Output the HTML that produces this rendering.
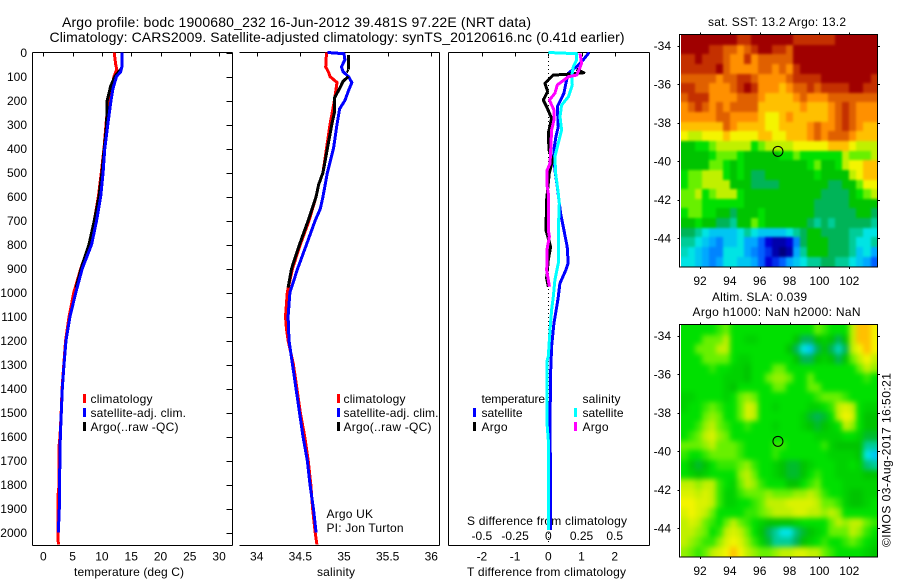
<!DOCTYPE html>
<html lang="en">
<head>
<meta charset="utf-8">
<title>Argo profile 1900680_232</title>
<style>
html,body{margin:0;padding:0;background:#fff;}
svg{display:block;}
text{font-family:"Liberation Sans",sans-serif;font-size:12px;fill:#000;}
</style>
</head>
<body>
<svg id="fig" xmlns="http://www.w3.org/2000/svg" width="900" height="580" viewBox="0 0 900 580">
<defs>
<filter id="sstSoft" filterUnits="userSpaceOnUse" x="660" y="10" width="240" height="280" color-interpolation-filters="sRGB"><feGaussianBlur stdDeviation="1.3"/></filter>
<filter id="slaSoft" filterUnits="userSpaceOnUse" x="660" y="300" width="240" height="280" color-interpolation-filters="sRGB"><feGaussianBlur stdDeviation="2.6"/></filter>
<clipPath id="sstClip"><rect x="681" y="35" width="197" height="232"/></clipPath>
<clipPath id="slaClip"><rect x="681" y="325" width="197" height="232"/></clipPath>
</defs>
<text x="62" y="27" style="font-size:14px" textLength="469" lengthAdjust="spacing">Argo profile: bodc 1900680_232 16-Jun-2012 39.481S 97.22E (NRT data)</text>
<text x="49.5" y="42" style="font-size:14px" textLength="575" lengthAdjust="spacing">Climatology: CARS2009. Satellite-adjusted climatology: synTS_20120616.nc (0.41d earlier)</text>
<text x="74" y="576" textLength="110" lengthAdjust="spacing">temperature (deg C)</text>
<text x="317" y="576" textLength="38" lengthAdjust="spacing">salinity</text>
<text x="467" y="576" textLength="159" lengthAdjust="spacing">T difference from climatology</text>
<text x="467" y="525" textLength="160" lengthAdjust="spacing">S difference from climatology</text>
<text x="326.5" y="518" textLength="46.5" lengthAdjust="spacing">Argo UK</text>
<text x="326.5" y="532" textLength="77" lengthAdjust="spacing">PI: Jon Turton</text>

<g>
<rect x="83" y="394" width="3" height="9" fill="#f00"/>
<text x="90.5" y="403" textLength="62" lengthAdjust="spacing">climatology</text>
<rect x="83" y="408" width="3" height="9" fill="#00f"/>
<text x="90.5" y="417" textLength="95.5" lengthAdjust="spacing">satellite-adj. clim.</text>
<rect x="83" y="422" width="3" height="9" fill="#000"/>
<text x="90.5" y="431" textLength="88" lengthAdjust="spacing">Argo(..raw -QC)</text>
</g>
<g>
<rect x="337" y="394" width="3" height="9" fill="#f00"/>
<text x="343.5" y="403" textLength="62" lengthAdjust="spacing">climatology</text>
<rect x="337" y="408" width="3" height="9" fill="#00f"/>
<text x="343.5" y="417" textLength="95" lengthAdjust="spacing">satellite-adj. clim.</text>
<rect x="337" y="422" width="3" height="9" fill="#000"/>
<text x="343.5" y="431" textLength="88" lengthAdjust="spacing">Argo(..raw -QC)</text>
</g>

<text x="708" y="26" textLength="138" lengthAdjust="spacing">sat. SST: 13.2 Argo: 13.2</text>
<text x="712" y="301" textLength="95" lengthAdjust="spacing">Altim. SLA: 0.039</text>
<text x="692.5" y="316" textLength="168" lengthAdjust="spacing">Argo h1000: NaN h2000: NaN</text>
<text transform="translate(890.5,547) rotate(-90)" textLength="174" lengthAdjust="spacing">©IMOS 03-Aug-2017 16:50:21</text>
<g id="layer"></g>
</svg>
<script>
// ---- Profile axis ticks ----
const depthTicks = [0,100,200,300,400,500,600,700,800,900,1000,1100,1200,1300,1400,1500,1600,1700,1800,1900,2000];
const tempTicks = [0,5,10,15,20,25,30];
const salTicks = [34,34.5,35,35.5,36];
const salTickLabels = ['34','34.5','35','35.5','36'];
const dTTicks = [-2,-1,0,1,2];
const dTTickLabels = ['-2','-1','0','1','2'];
const dSTicks = [-0.5,-0.25,0,0.25,0.5];
const dSTickLabels = ['-0.5','-0.25','0','0.25','0.5'];
const lonTicks = [92,94,96,98,100,102];
const latTicks = [-34,-36,-38,-40,-42,-44];

// ---- Temperature profiles (deg C) ----
const tempClimDepth = [0,50,70,100,150,200,300,400,500,600,700,800,900,1000,1100,1200,1300,1400,1500,1600,1650,1730,1800,1850,1950,2050];
const tempClim = [12.1,12.35,12.55,12.07,11.67,11.1,10.7,10.36,9.9,9.4,8.7,7.85,6.4,5.2,4.4,3.8,3.5,3.2,3.05,2.85,2.65,2.65,2.7,2.5,2.5,2.56];
const tempSatDepth = [0,60,80,100,150,200,300,400,500,600,700,800,900,1000,1100,1200,1300,1400,1500,1600,1700,1800,1900,2000];
const tempSat = [13.4,13.4,13.2,12.5,11.9,11.55,11.0,10.5,10.2,9.8,9.1,8.25,6.65,5.55,4.55,3.87,3.53,3.25,3.07,2.9,2.85,2.73,2.73,2.56];
const tempArgoDepth = [65,100,140,200,300,400,500,600,700,800,900,980];
const tempArgo = [13.4,12.2,11.5,10.9,10.8,10.4,10.0,9.5,8.7,7.8,6.45,5.6];

// ---- Salinity profiles ----
const salClimDepth = [0,60,80,100,125,200,300,400,500,550,600,700,800,900,1000,1050,1100,1150,1200,1300,1400,1500,1600,1700,1800,1900,2000,2050];
const salClim = [34.80,34.79,34.82,34.84,34.92,34.89,34.84,34.80,34.76,34.71,34.68,34.60,34.50,34.41,34.35,34.34,34.33,34.34,34.36,34.42,34.46,34.50,34.55,34.59,34.62,34.64,34.67,34.69];
const salSatDepth = [0,5,30,60,80,100,125,160,200,235,300,400,500,600,650,700,800,900,1000,1100,1200,1300,1400,1500,1600,1700,1800,1900,2000];
const salSat = [34.81,35.0,35.01,34.97,34.99,35.05,35.09,35.05,35.01,34.95,34.92,34.88,34.81,34.76,34.73,34.67,34.57,34.47,34.38,34.36,34.37,34.41,34.45,34.49,34.53,34.58,34.61,34.65,34.68];
const salArgoDepth = [10,70,72,76,80,92,100,120,150,190,250,300,400,500,550,600,700,800,900,980];
const salArgo = [35.05,35.05,null,35.03,35.05,null,35.05,34.99,34.95,34.89,34.89,34.86,34.81,34.76,34.71,34.68,34.59,34.49,34.40,34.36];

// ---- Differences from climatology ----
const dTSatDepth = [0,31,59,87,128,170,226,309,351,406,490,559,670,740,809,878,906,962,1017,1045,1129,1226,1337,1545,1823,1990];
const dTSat = [1.23,1.05,0.85,0.60,0.53,0.47,0.27,0.30,0.23,0.17,0.20,0.27,0.37,0.47,0.57,0.60,0.53,0.35,0.30,0.27,0.17,0.10,0.07,0.05,0.07,0.07];
const dTArgoDepth = [70,84,91,94,128,163,198,226,274,337,406,448,503,615,740,809,865,941,976];
const dTArgo = [0.85,1.07,0.55,0.15,-0.10,-0.02,-0.15,-0.05,0.10,0,0.02,0.13,0.03,-0.05,-0.07,0.07,0,-0.05,0];
const dSSatDepth = [0,5,31,59,100,135,184,219,267,323,378,434,503,587,628,740,878,948,1017,1073,1157,1268,1282,1545,1615,1990];
const dSSat = [0,0.214,0.214,0.188,0.176,0.181,0.151,0.10,0.088,0.10,0.075,0.05,0.055,0.075,0.083,0.075,0.075,0.05,0.038,0.025,0.013,0,-0.008,-0.01,0,0];
const dSArgoDepth = [4,45,62,94,101,122,135,170,198,240,281,323,406,462,490,559,587,740,767,816,865,906,976];
const dSArgo = [0.239,0.251,0.239,0.214,0.151,0.10,0.068,0.05,0.008,0.043,0.043,0.025,0.018,0.013,-0.008,-0.008,0,0,0.008,-0.008,-0.008,-0.013,0.008];

// ---- Float position ----
const floatLon = [97.22];
const floatLat = [-39.481];

// ---- Map colour levels: 0 navy ... 8 green ... 11 yellow ... 16 dark red ----
const sstGrid = [
[16,16,16,16,16,16,16,16,15,15,16,16,16,16,16,16,15,15,15,15,15,15,16,16,16,16,16,16],
[16,16,16,16,15,15,14,14,13,14,15,16,16,15,15,14,16,16,16,16,16,16,16,16,16,16,16,16],
[15,15,16,15,15,15,14,13,13,15,13,14,14,14,14,14,16,16,16,16,16,16,16,16,16,16,16,16],
[15,15,15,15,15,16,14,13,13,13,13,14,14,13,14,13,15,16,16,16,16,16,16,16,16,16,16,16],
[14,14,14,14,14,13,14,14,15,15,14,13,13,13,13,14,15,15,15,15,16,16,16,16,16,16,16,15],
[15,15,14,14,13,13,13,14,15,16,15,13,13,13,12,13,14,14,15,14,15,15,15,15,16,16,15,15],
[14,15,15,15,13,13,13,13,14,14,14,13,12,12,12,12,13,14,13,13,13,14,14,14,14,14,14,14],
[13,14,15,14,13,14,13,14,14,14,14,12,12,12,12,12,12,13,12,12,12,13,14,15,14,13,13,13],
[13,13,13,13,13,14,14,13,13,13,13,12,11,11,12,13,12,12,12,12,12,13,14,15,14,13,13,13],
[12,12,12,12,12,12,14,13,12,12,12,12,11,11,12,12,12,12,13,14,13,13,14,15,14,13,12,12],
[11,10,10,11,11,11,12,11,11,11,11,12,12,11,11,12,12,12,13,14,13,14,14,14,13,12,12,12],
[7,7,8,8,9,10,10,10,10,10,8,9,10,10,10,10,11,11,11,11,11,12,12,12,11,10,10,10],
[7,7,7,7,8,9,9,9,8,7,7,7,7,7,8,8,9,8,8,8,8,8,8,10,9,9,9,10],
[7,7,7,7,9,9,8,7,8,7,7,7,7,7,7,7,7,7,8,9,7,7,8,10,11,11,12,12],
[8,9,9,10,10,10,8,7,8,7,6,6,7,7,7,7,7,7,7,8,7,7,7,7,10,11,12,12],
[8,9,9,10,10,10,10,7,7,7,6,6,6,6,7,7,7,7,7,7,7,6,6,7,7,9,11,11],
[9,9,10,8,9,10,10,10,8,7,7,7,7,7,7,7,7,7,7,7,6,6,6,6,7,8,9,10],
[9,9,9,8,8,8,8,8,8,7,7,7,7,7,7,7,7,7,7,6,6,6,6,6,7,7,7,7],
[8,9,9,8,8,7,7,6,7,7,7,8,7,7,7,7,7,7,7,6,6,6,6,6,6,7,7,6],
[7,7,8,7,7,6,6,5,7,7,9,8,7,7,7,7,7,7,6,5,6,5,6,6,6,6,6,5],
[6,6,5,4,3.5,3.5,3.5,3.5,4,5,4,3.5,3.5,3.5,3.5,4,5,6,7,7,6,6,6,6,5,5,4,4],
[5,5,4,3.5,3,2.5,3.5,3.5,4,3,3,2,1,0.5,0.5,1,2.5,6,7,7,7,6,6,6,5,4,4,5],
[4.5,4,3.5,3,2.5,2.5,4,4,4,3,2.5,2,1.5,0.5,0,0.5,3,5,7,7,7,6,6,6,5,3.5,4,3],
[4,4,3.5,3,2.5,3,4,4,3.5,3.5,3,2,1,1.5,2,3,3.5,4,5,5,6,6,5,5,4,3.5,3,2]
];
const slaGrid = [
[8,8,8,8,8,8.5,9,8,8,8,8,8,8,8,8,8,8,8,8,9,8.5,8,8,8,10,12,12,11],
[8,8,8,9,9,9,10,8,8,7.5,7.5,8,8,8,8,8,7,6,6,7,7.5,7,6,7,10,12,12,11],
[8,8,9,9,9,10,10,8,8,8,8,8,8,8,8,7,6,4,3.5,6,7,6,4.5,6,10,11,12,11],
[8,8,8,9,9,9,9,8,7.5,7.5,8,8,8,8,8,8,7,6,6,7,7.5,7,6,7,9,10,11,10],
[8,8,8,8,8.5,8,8,7.5,7.5,7,8,8,8,9,9,8,8,8,8,8,8,8,8,8,8,9,10,9.5],
[8,8,8,8,8,8,7.5,7.5,7.5,7,8,8,9,9.5,9.5,9,8,8,9,8,8,8,8,8,8,8,8.5,8],
[8,8,8,8,8,8,7.5,7,8,8,8,8,8,9,9,8,8,8,9,9,8,8,8,8,8,8,8,8],
[7.5,7.5,8,8,8,8,7.5,8,9,9.5,9,8,8,8,8,8,8,8,8,8.5,9,9,9,8.5,8,8,8,8],
[7.5,8,8,8.5,9,8.5,8,8,9,10.5,10,8,8,7.5,8,8,8,8,7.5,7.5,8,8.5,10,10.5,10,8,7.5,7.5],
[8,8,8,9,9.5,9,8,8,9,10.5,10,8,8,8,8,8,8,7.5,6.5,6,6.5,8,10,11,10.5,8,7,7],
[8,8,8.5,9.5,10,9,8.5,8,8,8.5,8,8,8,7.5,8,8,8,7.5,7,6.5,7,7.5,8,10,9.5,8,7,7],
[8,8.5,9,10,10.5,9.5,9,8,8,8,8,8,8,8,8,8,8,8,8,7.5,7.5,7.5,7.5,8,8,7.5,6.5,6.5],
[9,9,9,9.5,10,9,9,9,8.5,8,8,8,8,8.5,8.5,8,8,8,8,8,8.5,7.5,7,7,7,7,5,5],
[8.5,8,8,8.5,9,9,9,9,8.5,8,8,8,8,8.5,8,8,8,8,8,8,8,7.5,7.5,7.5,7.5,7,4,3.5],
[8,7,6.5,7,8,8.5,8.5,8.5,9,9.5,8.5,8,8,7.5,7,6.5,6.5,7,7.5,8,8,8,7.5,7.5,8,7.5,5.5,5],
[8,7.5,7,7.5,8,8,8,8,9.5,10,9,8,8,7.5,7,6.5,6.5,7,8,8.5,8,8,7.5,7.5,7.5,7.5,7,7],
[10,10,9.5,10,10,8.5,8,7.5,9,10,9.5,8.5,8,8,8,7,7,8,8.5,9,8,8,8,7.5,7.5,7.5,7.5,7.5],
[10.5,10.5,10,10.5,10,8.5,7.5,7.5,8.5,9,9,9,9.5,9,9,9,9.5,9.5,10,9.5,8.5,8,8,7.5,7,7,7.5,7.5],
[11,11,10.5,10.5,10,8.5,7.5,7.5,8,8,8.5,9,10,10,10,10.5,10.5,10.5,10.5,10,9,9,8.5,7.5,7,7,7.5,8],
[10.5,11,10.5,10,9,8,8,8,8,8.5,8.5,9,9.5,10,10,10,10.5,10.5,10,10,9.5,10,9.5,8,8,8,8,8],
[10,10.5,10,9,8.5,8,9,10,9,8.5,8,7.5,7,7,7,7,7.5,8,8,8,8,9,10,9.5,10,10,9,8.5],
[10,10,9.5,9,8,8.5,10,10.5,10,9,8,7,6,5,4,4,5.5,6.5,7,7.5,8,9,9,9,10,9.5,8.5,8],
[10,9.5,9,8.5,8.5,9.5,10.5,11,10.5,9.5,8.5,7.5,6.5,5,5,5,6,7,7.5,8,8.5,8,8,8.5,9,8.5,8,7.5],
[9.5,9,8.5,9,10,10.5,11,12,11,10,9.5,9,9,9.5,10,10,10.5,10.5,10,10,9,8.5,8,8,8,8,7.5,7]
];
const mapFirstLon = [90.73];
const mapFirstLat = [-33.445];
const mapLonStep = [0.47];
const mapLatStep = [0.5];

const NS = 'http://www.w3.org/2000/svg';
const layer = document.getElementById('layer');
function mk(tag, attrs, parent) {
  const el = document.createElementNS(NS, tag);
  for (const k in attrs) el.setAttribute(k, attrs[k]);
  (parent || layer).appendChild(el);
  return el;
}
const levelColours = ['#000080','#0000d8','#0060ff','#00a8ff','#00e4e4','#00cc98','#00b458','#00c400','#00e000','#68f000','#c0f000','#f4f400','#ffc000','#ff9000','#e06000','#c43000','#a00000'];
function levelColour(v) {
  const lo = Math.max(0, Math.min(16, Math.floor(v)));
  const hi = Math.min(16, lo + 1);
  const f = v - lo;
  const a = parseInt(levelColours[lo].slice(1), 16);
  const b = parseInt(levelColours[hi].slice(1), 16);
  const ch = s => Math.round(((a >> s) & 255) * (1 - f) + ((b >> s) & 255) * f);
  return 'rgb(' + ch(16) + ',' + ch(8) + ',' + ch(0) + ')';
}

const yDepth = d => 52.5 + 0.24 * d;
const xTemp = v => 43.3 + 5.86 * v;
const xSal = v => 256.7 + 87.3 * (v - 34);
const xDT = v => 548.3 + 33.2 * v;
const xDS = v => 548.3 + 132.8 * v;
const xLon = v => 700 + 14.93 * (v - 92);
const yLat = (v, top) => top + 11.7 + 19.27 * (-34 - v);

function seriesPath(depths, values, xf) {
  let d = '', pen = false;
  depths.forEach((z, i) => {
    const v = values[i];
    if (v === null || v === undefined) { pen = false; return; }
    d += (pen ? 'L' : 'M') + xf(v).toFixed(1) + ' ' + yDepth(z).toFixed(1);
    pen = true;
  });
  return d;
}
function drawSeries(name, depths, values, xf, colour) {
  const el = mk('path', {d: seriesPath(depths, values, xf), fill: 'none', stroke: colour, 'stroke-width': 3, 'stroke-linejoin': 'round', 'shape-rendering': 'crispEdges'});
  
  
}
function axisLine(name, x1, y1, x2, y2) {
  const el = mk('line', {x1, y1, x2, y2, stroke: '#000', 'stroke-width': 1, 'shape-rendering': 'crispEdges'});
  
  
}
function label(name, txt, x, y, anchor) {
  const el = mk('text', {x, y, 'text-anchor': anchor});
  el.textContent = txt;
  
  
}

// Panel frames
axisLine('temperature-panel-left-axis', 32.5, 52.5, 32.5, 545.5);
axisLine('temperature-panel-right-axis', 232.5, 52.5, 232.5, 545.5);
axisLine('temperature-panel-top-axis', 32.5, 52.5, 232.5, 52.5);
axisLine('temperature-panel-bottom-axis', 32.5, 545.5, 232.5, 545.5);
axisLine('salinity-panel-right-axis', 439.5, 52.5, 439.5, 545.5);
axisLine('salinity-panel-top-axis', 239.5, 52.5, 439.5, 52.5);
axisLine('salinity-panel-bottom-axis', 239.5, 545.5, 439.5, 545.5);
axisLine('difference-panel-left-axis', 448.5, 52.5, 448.5, 545.5);
axisLine('difference-panel-right-axis', 649.5, 52.5, 649.5, 545.5);
axisLine('difference-panel-top-axis', 448.5, 52.5, 649.5, 52.5);
axisLine('difference-panel-bottom-axis', 448.5, 545.5, 649.5, 545.5);

// Depth ticks
depthTicks.forEach(d => {
  const y = Math.round(yDepth(d)) + 0.5;
  axisLine('depth-tick', 226.5, y, 232.5, y);
  label('depth-tick-label', String(d), 27, yDepth(d) + 4.3, 'end');
});
tempTicks.forEach(v => {
  const x = Math.round(xTemp(v)) + 0.5;
  axisLine('temperature-tick', x, 52.5, x, 56.5);
  label('temperature-tick-label', String(v), xTemp(v), 560.7, 'middle');
});
salTicks.forEach((v, i) => {
  const x = Math.round(xSal(v)) + 0.5;
  axisLine('salinity-tick', x, 52.5, x, 56.5);
  label('salinity-tick-label', salTickLabels[i], xSal(v), 560.7, 'middle');
});
dTTicks.forEach((v, i) => {
  const x = Math.round(xDT(v)) + 0.5;
  axisLine('t-difference-tick', x, 52.5, x, 56.5);
  label('t-difference-tick-label', dTTickLabels[i], xDT(v), 560.7, 'middle');
});
dSTicks.forEach((v, i) => {
  label('s-difference-tick-label', dSTickLabels[i], xDS(v), 540, 'middle');
});

// Temperature series
drawSeries('temperature-climatology-line', tempClimDepth, tempClim, xTemp, '#f00');
drawSeries('temperature-argo-line', tempArgoDepth, tempArgo, xTemp, '#000');
drawSeries('temperature-satellite-line', tempSatDepth, tempSat, xTemp, '#00f');

// Salinity series
drawSeries('salinity-climatology-line', salClimDepth, salClim, xSal, '#f00');
drawSeries('salinity-satellite-line', salSatDepth, salSat, xSal, '#00f');
drawSeries('salinity-argo-line', salArgoDepth, salArgo, xSal, '#000');

// Difference series
const zeroLine = mk('line', {x1: 548.5, y1: 53, x2: 548.5, y2: 545, stroke: '#000', 'stroke-width': 1, 'stroke-dasharray': '1 3', 'shape-rendering': 'crispEdges'});


drawSeries('t-difference-satellite-line', dTSatDepth, dTSat, xDT, '#00f');
drawSeries('t-difference-argo-line', dTArgoDepth, dTArgo, xDT, '#000');
drawSeries('s-difference-satellite-line', dSSatDepth, dSSat, xDS, '#0ff');
drawSeries('s-difference-argo-line', dSArgoDepth, dSArgo, xDS, '#f0f');

// Difference legend (placed over the lines)
const diffLegend = [
  ['temperature', null, 481.5, 403, 'difference-legend-temperature', 63.5],
  ['satellite', '#00f', 481.5, 417, 'difference-legend-t-satellite', 41],
  ['Argo', '#000', 481.5, 431, 'difference-legend-t-argo', 26],
  ['salinity', null, 582.5, 403, 'difference-legend-salinity', 38],
  ['satellite', '#0ff', 582.5, 417, 'difference-legend-s-satellite', 41],
  ['Argo', '#f0f', 582.5, 431, 'difference-legend-s-argo', 26]
];
diffLegend.forEach(e => {
  const t = mk('text', {x: e[2], y: e[3], textLength: e[5], lengthAdjust: 'spacing'});
  t.textContent = e[0];
  
  
  if (e[1]) {
    const sw = mk('rect', {x: e[2] - 8.5, y: e[3] - 9, width: 3, height: 9, fill: e[1]});
    
    
  }
});

// Maps
function drawMap(prefix, grid, top, filterId, clipId) {
  const outer = mk('g', {'clip-path': 'url(#' + clipId + ')'});
  
  
  const g = mk('g', {filter: 'url(#' + filterId + ')'}, outer);
  
  
  grid.forEach((row, j) => {
    row.forEach((v, i) => {
      const lonA = mapFirstLon[0] + i * mapLonStep[0];
      const lonB = lonA + mapLonStep[0];
      const latA = mapFirstLat[0] - j * mapLatStep[0];
      const latB = latA - mapLatStep[0];
      // Edge cells bleed outward so the softening does not fade at the frame.
      const x0 = Math.round(xLon(lonA)) - (i === 0 ? 12 : 0);
      const x1 = Math.round(xLon(lonB)) + (i === row.length - 1 ? 12 : 0);
      const y0 = Math.round(yLat(latA, top)) - (j === 0 ? 12 : 0);
      const y1 = Math.round(yLat(latB, top)) + (j === grid.length - 1 ? 12 : 0);
      const c = mk('rect', {x: x0, y: y0, width: x1 - x0, height: y1 - y0, fill: levelColour(v), 'shape-rendering': 'crispEdges'}, g);
      
      
    });
  });
  const frame = mk('rect', {x: 679.5, y: top + 0.5, width: 198, height: 232.5, fill: 'none', stroke: '#000', 'stroke-width': 1, 'shape-rendering': 'crispEdges'});
  
  
  lonTicks.forEach(v => {
    const x = Math.round(xLon(v)) + 0.5;
    axisLine(prefix + '-lon-tick-top', x, top - 1.5, x, top + 0.5);
    axisLine(prefix + '-lon-tick-bottom', x, top + 233, x, top + 235);
    label(prefix + '-lon-tick-label', String(v), xLon(v), top + 251, 'middle');
  });
  latTicks.forEach(v => {
    const y = Math.round(yLat(v, top)) + 0.5;
    axisLine(prefix + '-lat-tick-left', 677.5, y, 679.5, y);
    axisLine(prefix + '-lat-tick-right', 877.5, y, 880, y);
    label(prefix + '-lat-tick-label', String(v), 671, yLat(v, top) + 4.3, 'end');
  });
  const m = mk('circle', {cx: xLon(floatLon[0]), cy: yLat(floatLat[0], top), r: 5, fill: 'none', stroke: '#000', 'stroke-width': 1});
  
  
}
drawMap('sst', sstGrid, 34, 'sstSoft', 'sstClip');
drawMap('sla', slaGrid, 324, 'slaSoft', 'slaClip');
</script>
</body>
</html>
